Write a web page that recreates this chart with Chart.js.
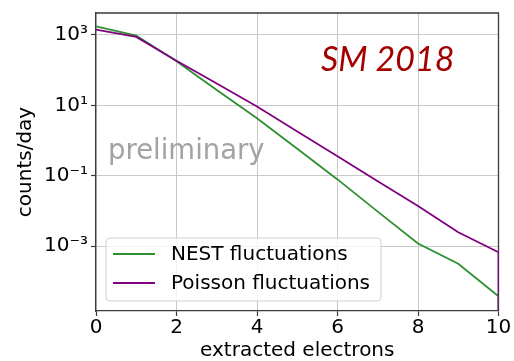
<!DOCTYPE html>
<html>
<head>
<meta charset="utf-8">
<script src="https://cdn.jsdelivr.net/npm/chart.js@4"></script>
<style>
  html, body { margin: 0; padding: 0; background: #fff; }
  #wrap { width: 514px; height: 361px; }
</style>
</head>
<body>
<div id="wrap"><canvas id="c" width="514" height="361"></canvas></div>
<script>
// Spectrum of extracted electrons: expected counts per day for each electron number
const electrons = [0, 1, 2, 3, 4, 5, 6, 7, 8, 9, 10];
const nestCounts = [1760, 960, 178, 27.5, 4.3, 0.59, 0.079, 0.0096, 1.2e-3, 3.2e-4, 3.8e-5];
const poissonCounts = [1420, 880, 186, 42, 9.3, 1.8, 0.36, 0.07, 0.014, 2.5e-3, 6.8e-4];
const seriesNames = ['NEST fluctuations', 'Poisson fluctuations'];

// Axis ticks
const xTicks = [0, 2, 4, 6, 8, 10];
const yTicks = [1e-3, 1e-1, 1e1, 1e3];
const yTickLabels = ['10\u207B\u00B3', '10\u207B\u00B9', '10\u00B9', '10\u00B3'];

const FONT = 'DejaVu Sans';
const SPINE = '#3a3a3a';
const GRID = '#c9c9c9';

// Past the last bin the spectrum is empty; zero lies infinitely far down a log
// axis, so each trace is closed with the smallest positive double.
function series(counts) {
  const pts = electrons.map((e, i) => ({ x: e, y: counts[i] }));
  pts.push({ x: electrons[electrons.length - 1], y: Number.MIN_VALUE });
  return pts;
}

const decorations = {
  id: 'decorations',
  beforeDatasetsDraw(chart) {
    const { ctx, chartArea: a } = chart;
    ctx.save();
    // top and right spines
    ctx.strokeStyle = SPINE;
    ctx.lineWidth = 1.3;
    ctx.beginPath();
    ctx.moveTo(a.left, a.top);
    ctx.lineTo(a.right, a.top);
    ctx.lineTo(a.right, a.bottom);
    ctx.stroke();
    // watermark
    ctx.fillStyle = '#a3a3a3';
    ctx.font = `27.5px "${FONT}"`;
    ctx.textBaseline = 'alphabetic';
    ctx.textAlign = 'left';
    ctx.fillText('preliminary', a.left + 12, a.top + 146);
    // conference tag
    ctx.fillStyle = '#a30000';
    ctx.font = 'italic 34px Lato, "Open Sans", sans-serif';
    ctx.fillText('SM 2018', a.left + 225, a.top + 57.5);
    ctx.restore();
  },
  afterDatasetsDraw(chart) {
    const { ctx, chartArea: a } = chart;
    const ds = chart.data.datasets;
    const left = a.left + 10, top = a.top + 225, w = 275, h = 63, r = 4;
    ctx.save();
    ctx.beginPath();
    ctx.moveTo(left + r, top);
    ctx.arcTo(left + w, top, left + w, top + h, r);
    ctx.arcTo(left + w, top + h, left, top + h, r);
    ctx.arcTo(left, top + h, left, top, r);
    ctx.arcTo(left, top, left + w, top, r);
    ctx.closePath();
    ctx.fillStyle = 'rgba(255,255,255,0.8)';
    ctx.fill();
    ctx.strokeStyle = '#d0d0d0';
    ctx.lineWidth = 1;
    ctx.stroke();
    ctx.font = `20px "${FONT}"`;
    ctx.textBaseline = 'middle';
    ctx.textAlign = 'left';
    ds.forEach((d, i) => {
      const y = top + 16 + i * 29;
      ctx.strokeStyle = d.borderColor;
      ctx.lineWidth = d.borderWidth;
      ctx.beginPath();
      ctx.moveTo(left + 7, y);
      ctx.lineTo(left + 49, y);
      ctx.stroke();
      ctx.fillStyle = '#000';
      ctx.fillText(d.label, left + 65, y + 1);
    });
    ctx.restore();
  }
};

new Chart(document.getElementById('c'), {
  type: 'line',
  data: {
    datasets: [
      { label: seriesNames[0], data: series(nestCounts), borderColor: '#2f8f2f',
        borderWidth: 1.8, pointRadius: 0, tension: 0, order: 1 },
      { label: seriesNames[1], data: series(poissonCounts), borderColor: '#800080',
        borderWidth: 1.8, pointRadius: 0, tension: 0, order: 0 }
    ]
  },
  options: {
    responsive: false,
    animation: false,
    devicePixelRatio: 1,
    layout: { padding: { top: 11, right: 15.5, left: 0, bottom: 0 } },
    plugins: { legend: { display: false }, tooltip: { enabled: false } },
    scales: {
      x: {
        type: 'linear',
        min: 0, max: 10,
        afterBuildTicks: s => { s.ticks = xTicks.map(v => ({ value: v })); },
        afterFit: s => { s.height = 50; },
        ticks: { color: '#000', font: { family: FONT, size: 20, lineHeight: 1 }, padding: 1.5, maxRotation: 0 },
        grid: { color: GRID, lineWidth: 1, tickLength: 5, tickColor: SPINE, tickWidth: 1.2 },
        border: { color: SPINE, width: 1.3 },
        title: { display: true, text: 'extracted electrons', color: '#000',
                 font: { family: FONT, size: 20, lineHeight: 1 }, padding: { top: 0, bottom: 0 } }
      },
      y: {
        type: 'logarithmic',
        min: 1.45e-5, max: 4.2e3,
        afterBuildTicks: s => { s.ticks = yTicks.map(v => ({ value: v })); },
        afterFit: s => { s.width = 96; },
        ticks: {
          color: '#000', font: { family: FONT, size: 20, lineHeight: 1 }, padding: 3, autoSkip: false,
          callback: v => yTickLabels[yTicks.findIndex(t => Math.abs(Math.log10(t) - Math.log10(v)) < 1e-6)]
        },
        grid: { color: GRID, lineWidth: 1, tickLength: 5, tickColor: SPINE, tickWidth: 1.2 },
        border: { color: SPINE, width: 1.3 },
        title: { display: true, text: 'counts/day', color: '#000',
                 font: { family: FONT, size: 20, lineHeight: 1 }, padding: { top: 16, bottom: 0 } }
      }
    }
  },
  plugins: [decorations]
});
</script>
</body>
</html>
